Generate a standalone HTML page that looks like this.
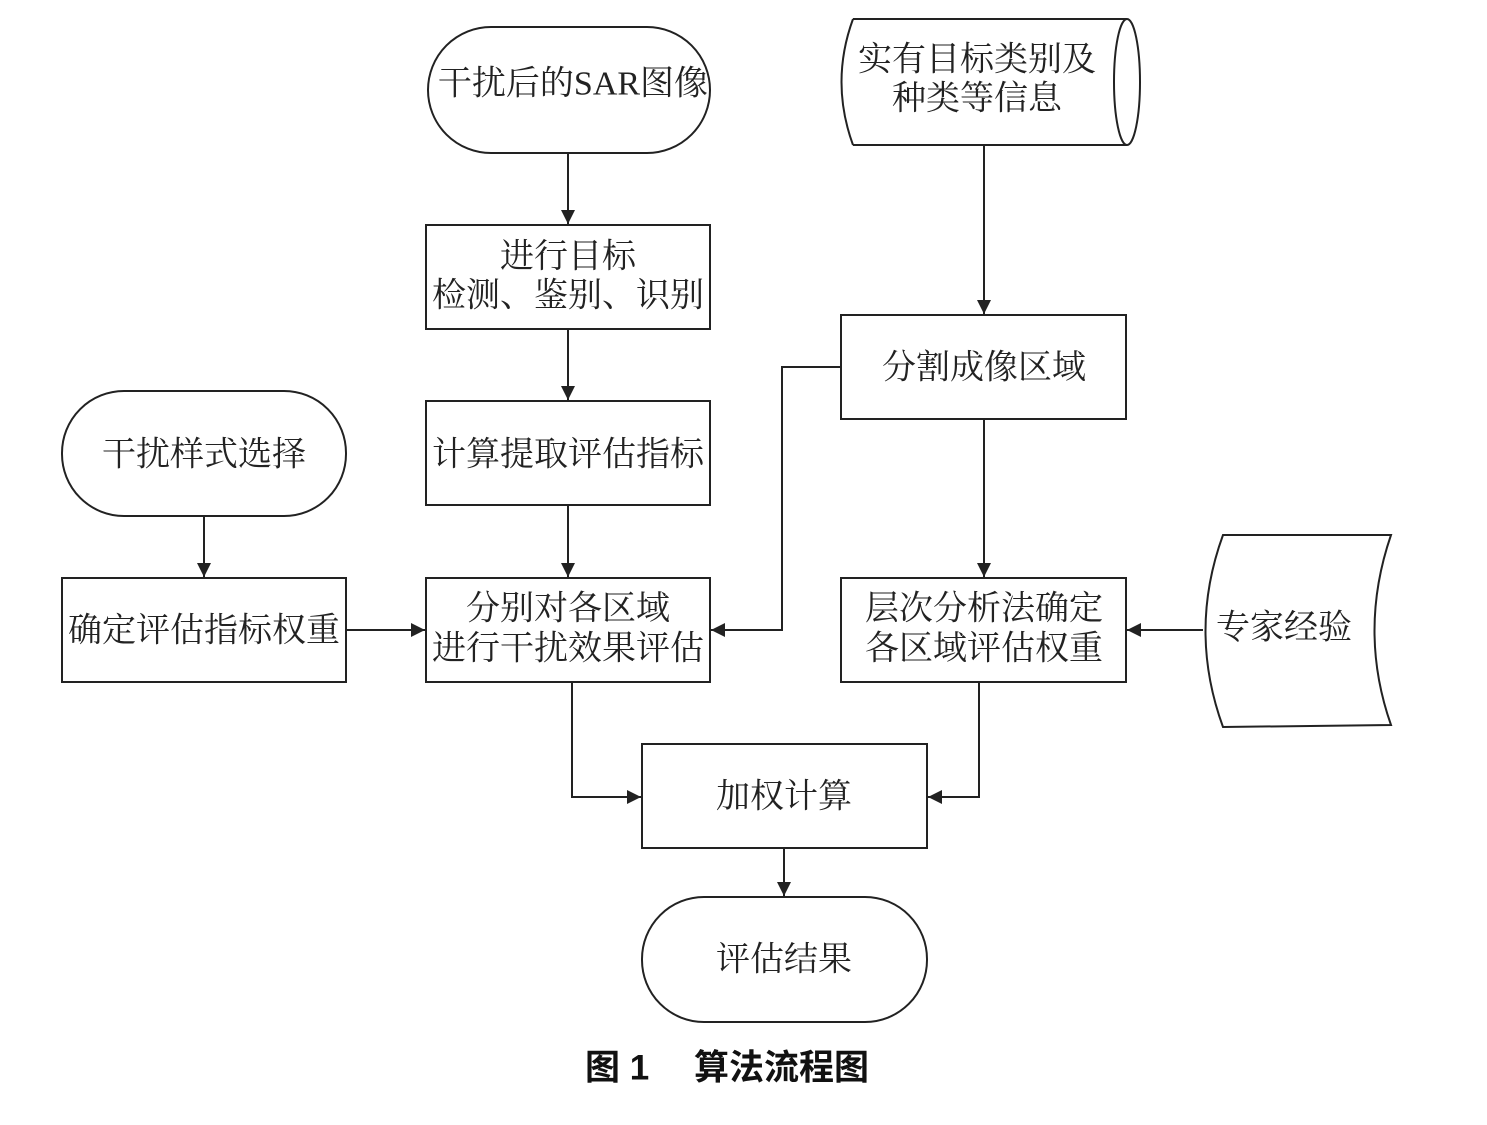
<!DOCTYPE html>
<html><head><meta charset="utf-8"><style>
html,body{margin:0;padding:0;background:#fff;}
svg{display:block;}
text{font-family:"Liberation Serif","Noto Serif CJK SC","Noto Sans CJK SC",serif;font-size:34px;fill:#222;text-anchor:middle;dominant-baseline:central;}
.cap{font-family:"Liberation Sans","Noto Sans CJK SC",sans-serif;font-weight:bold;font-size:35px;fill:#111;}
</style></head><body>
<svg width="1487" height="1125" viewBox="0 0 1487 1125" xmlns="http://www.w3.org/2000/svg">
<defs><marker id="a" viewBox="0 0 10 10" refX="10" refY="5" markerWidth="14" markerHeight="14" markerUnits="userSpaceOnUse" orient="auto"><path d="M0,0 L10,5 L0,10 z" fill="#222"/></marker></defs>
<g fill="none" stroke="#222" stroke-width="2">
<rect x="428" y="27" width="282" height="126" rx="63"/>
<rect x="426" y="225" width="284" height="104"/>
<rect x="426" y="401" width="284" height="104"/>
<rect x="426" y="578" width="284" height="104"/>
<rect x="62" y="391" width="284" height="125" rx="62"/>
<rect x="62" y="578" width="284" height="104"/>
<rect x="841" y="315" width="285" height="104"/>
<rect x="841" y="578" width="285" height="104"/>
<rect x="642" y="744" width="285" height="104"/>
<rect x="642" y="897" width="285" height="125" rx="62"/>
<path d="M853,19 L1127,19 M853,145 L1127,145 M853,19 Q830,82 853,145"/>
<ellipse cx="1127" cy="82" rx="13" ry="63"/>
<path d="M1223,535 L1391,535 Q1358,631 1391,725 L1223,727 Q1188,631 1223,535 z"/>
<path d="M568,153 V224" marker-end="url(#a)"/>
<path d="M568,329 V400" marker-end="url(#a)"/>
<path d="M568,505 V577" marker-end="url(#a)"/>
<path d="M204,516 V577" marker-end="url(#a)"/>
<path d="M346,630 H425" marker-end="url(#a)"/>
<path d="M984,145 V314" marker-end="url(#a)"/>
<path d="M984,419 V577" marker-end="url(#a)"/>
<path d="M841,367 H782 V630 H711" marker-end="url(#a)"/>
<path d="M1203,630 H1127" marker-end="url(#a)"/>
<path d="M572,682 V797 H641" marker-end="url(#a)"/>
<path d="M979,682 V797 H928" marker-end="url(#a)"/>
<path d="M784,848 V896" marker-end="url(#a)"/>
</g>
<text x="573" y="84">干扰后的SAR图像</text>
<text x="568" y="257">进行目标</text>
<text x="568" y="296">检测、鉴别、识别</text>
<text x="568" y="455">计算提取评估指标</text>
<text x="568" y="609">分别对各区域</text>
<text x="568" y="649">进行干扰效果评估</text>
<text x="204" y="455">干扰样式选择</text>
<text x="204" y="631">确定评估指标权重</text>
<text x="977" y="60">实有目标类别及</text>
<text x="977" y="99">种类等信息</text>
<text x="984" y="368">分割成像区域</text>
<text x="984" y="609">层次分析法确定</text>
<text x="984" y="649">各区域评估权重</text>
<text x="1284" y="628">专家经验</text>
<text x="784" y="797">加权计算</text>
<text x="784" y="960">评估结果</text>
<text class="cap" x="727" y="1068">图 1　 算法流程图</text>
</svg>
</body></html>
